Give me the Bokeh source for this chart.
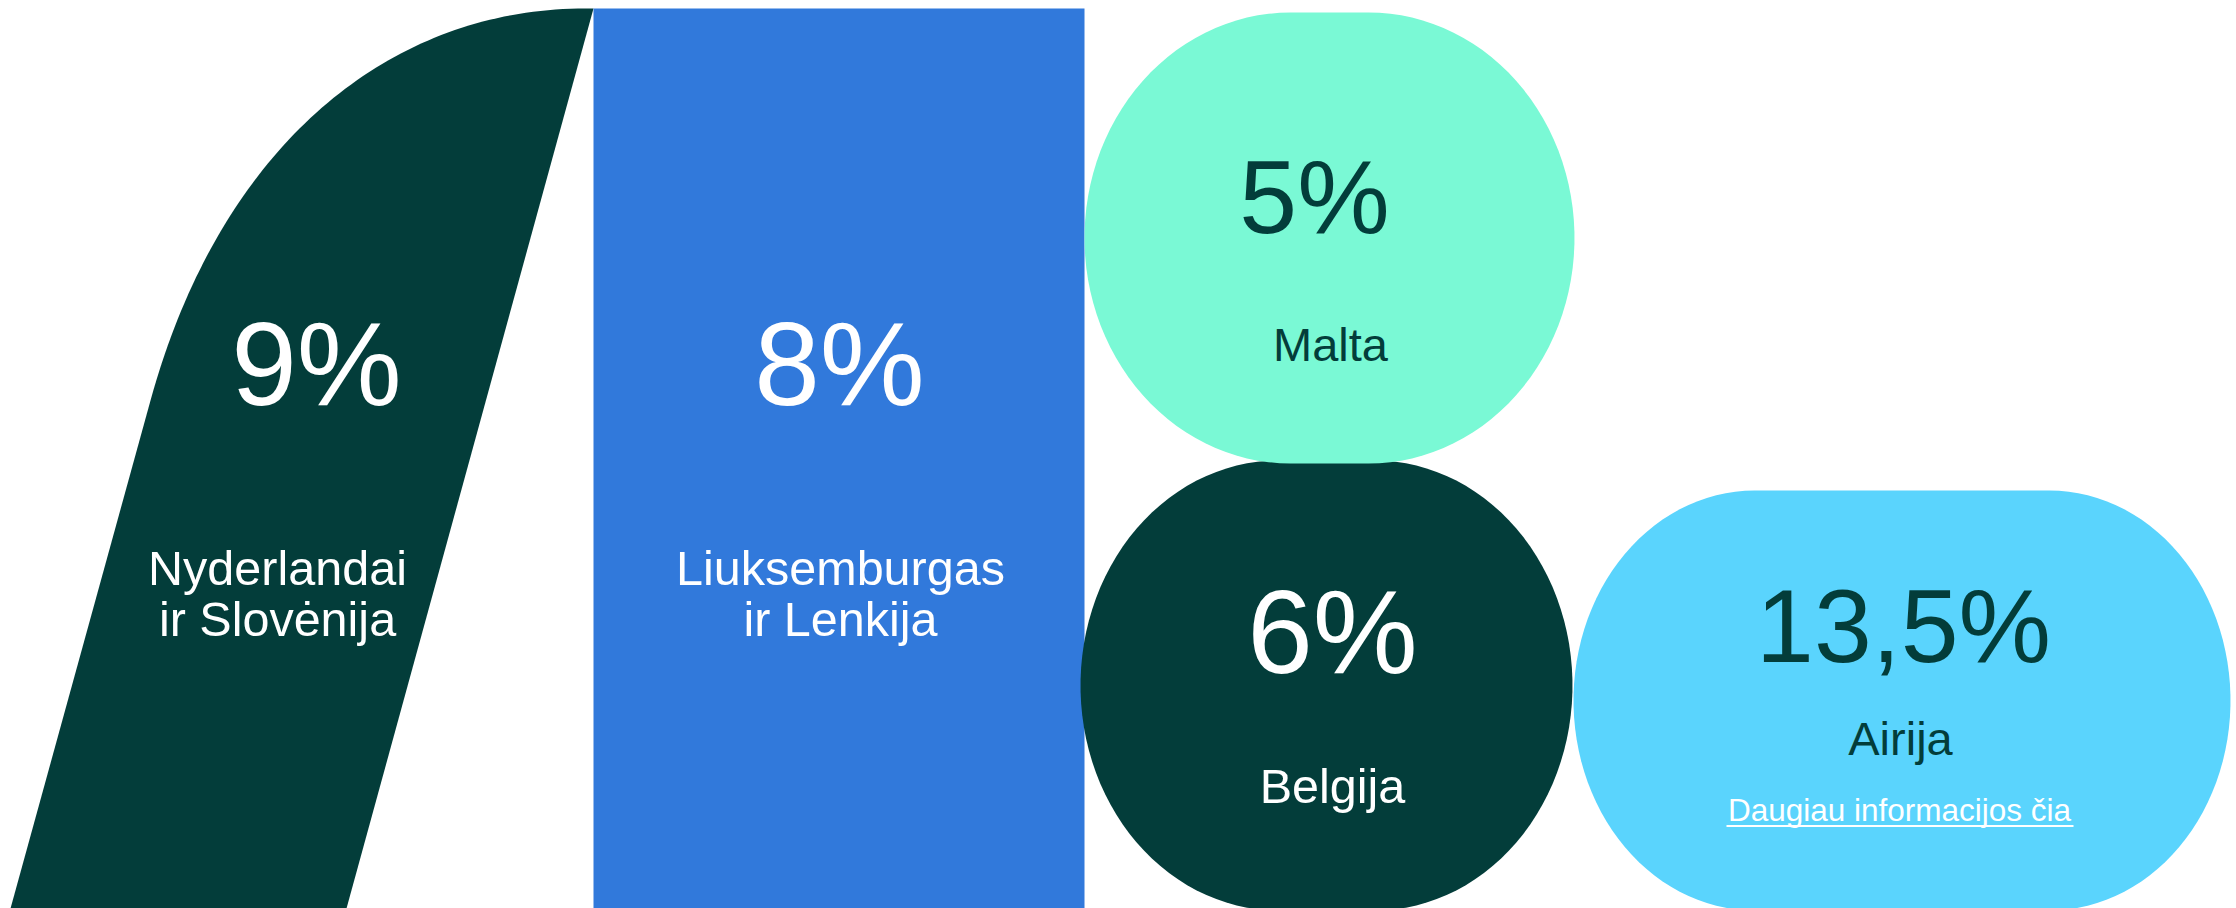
import numpy as np
from bokeh.plotting import figure
from bokeh.models import Range1d, ColumnDataSource
from bokeh.core.properties import value
from bokeh.embed import file_html
from bokeh.resources import INLINE

# ---------------- data ----------------
values = [9, 8, 5, 6, 13.5]
label_line1 = ["Nyderlandai", "Liuksemburgas", "Malta", "Belgija", "Airija"]
label_line2 = ["ir Slovėnija", "ir Lenkija", "", "", ""]
link_text = "Daugiau informacijos čia"
fill_colors = ["#033d3a", "#3179db", "#7af9d5", "#033d3a", "#5ad4fd"]
text_colors = ["#ffffff", "#ffffff", "#033d3a", "#ffffff", "#033d3a"]

# ---------------- layout (pixel coordinates of the page) ----------------
value_x = [316, 839, 1314, 1332, 1903]
value_y = [409, 409, 237, 677, 666]          # baselines
value_px = [118, 118, 104, 118, 104]
label_x = [277, 840, 1330, 1332, 1900]
label_y = [586, 586, 362, 804, 756]          # baselines
label_px = [48.5, 48.5, 47, 48.5, 47]
line_gap = 51
BASE_K = 0.385   # baseline correction (fraction of font size)

FONT = value("Liberation Sans")

W, H = 2236, 908
p = figure(width=W, height=H, x_range=Range1d(0, W), y_range=Range1d(H, 0),
           output_backend="svg", toolbar_location=None, min_border=0,
           outline_line_color=None)
p.axis.visible = False
p.grid.visible = False
p.background_fill_color = "white"
p.border_fill_color = "white"


def pill(x0, x1, y0, y1, rx, n=60):
    ry = (y1 - y0) / 2.0
    ym = (y0 + y1) / 2.0
    a = np.linspace(-np.pi / 2, np.pi / 2, n)
    xr = (x1 - rx) + rx * np.cos(a)
    yr = ym + ry * np.sin(a)
    b = np.linspace(np.pi / 2, 3 * np.pi / 2, n)
    xl = (x0 + rx) + rx * np.cos(b)
    yl = ym + ry * np.sin(b)
    return list(np.concatenate([xr, xl])), list(np.concatenate([yr, yl]))


# shape 1: slanted leaf
P0 = np.array([150.0, 400.0])
P1 = np.array([219.0, 149.0])
P2 = np.array([385.0, 8.0])
P3 = np.array([585.0, 8.0])
t = np.linspace(0, 1, 80)[:, None]
bez = (1 - t) ** 3 * P0 + 3 * (1 - t) ** 2 * t * P1 + 3 * (1 - t) * t ** 2 * P2 + t ** 3 * P3
sx = [10.0] + list(bez[:, 0]) + [593.0, 346.0]
sy = [908.0] + list(bez[:, 1]) + [8.0, 908.0]

# shape 2: rectangle
shape2 = dict(left=593, right=1084, top=8, bottom=910)

# shapes 3-5: rounded ovals
mx, my = pill(1084, 1574, 12, 463, 206)
bx, by = pill(1080, 1572, 460, 910, 198)
ax, ay = pill(1573, 2230, 490, 910, 181)

p.patch(sx, sy, fill_color=fill_colors[0], line_color=None)
p.quad(**shape2, fill_color=fill_colors[1], line_color=None)
p.patch(bx, by, fill_color=fill_colors[3], line_color=None)
p.patch(mx, my, fill_color=fill_colors[2], line_color=None)
p.patch(ax, ay, fill_color=fill_colors[4], line_color=None)

# value texts
val_txt = [("%g%%" % v).replace(".", ",") for v in values]
src_v = ColumnDataSource(dict(
    x=value_x,
    y=[b - BASE_K * s for b, s in zip(value_y, value_px)],
    t=val_txt, c=text_colors, s=["%gpx" % s for s in value_px]))
p.text(x="x", y="y", text="t", source=src_v, text_color="c", text_font_size="s",
       text_font=FONT, text_align="center", text_baseline="alphabetic")

# label texts
lx, ly, lt, lc, ls = [], [], [], [], []
for i in range(len(values)):
    lines = [label_line1[i]] + ([label_line2[i]] if label_line2[i] else [])
    for j, line in enumerate(lines):
        lx.append(label_x[i])
        ly.append(label_y[i] + j * line_gap - BASE_K * label_px[i])
        lt.append(line)
        lc.append(text_colors[i])
        ls.append("%gpx" % label_px[i])
src_l = ColumnDataSource(dict(x=lx, y=ly, t=lt, c=lc, s=ls))
p.text(x="x", y="y", text="t", source=src_l, text_color="c", text_font_size="s",
       text_font=FONT, text_align="center", text_baseline="alphabetic")

# link text with underline
p.text(x=[1899], y=[822 - BASE_K * 31.5], text=[link_text], text_color="#ffffff",
       text_font_size="31.5px", text_font=FONT, text_align="center",
       text_baseline="alphabetic")
p.segment(x0=[1726], x1=[2073], y0=[825.5], y1=[825.5], line_color="#ffffff", line_width=2)

open("out.html", "w").write(file_html(p, INLINE))
